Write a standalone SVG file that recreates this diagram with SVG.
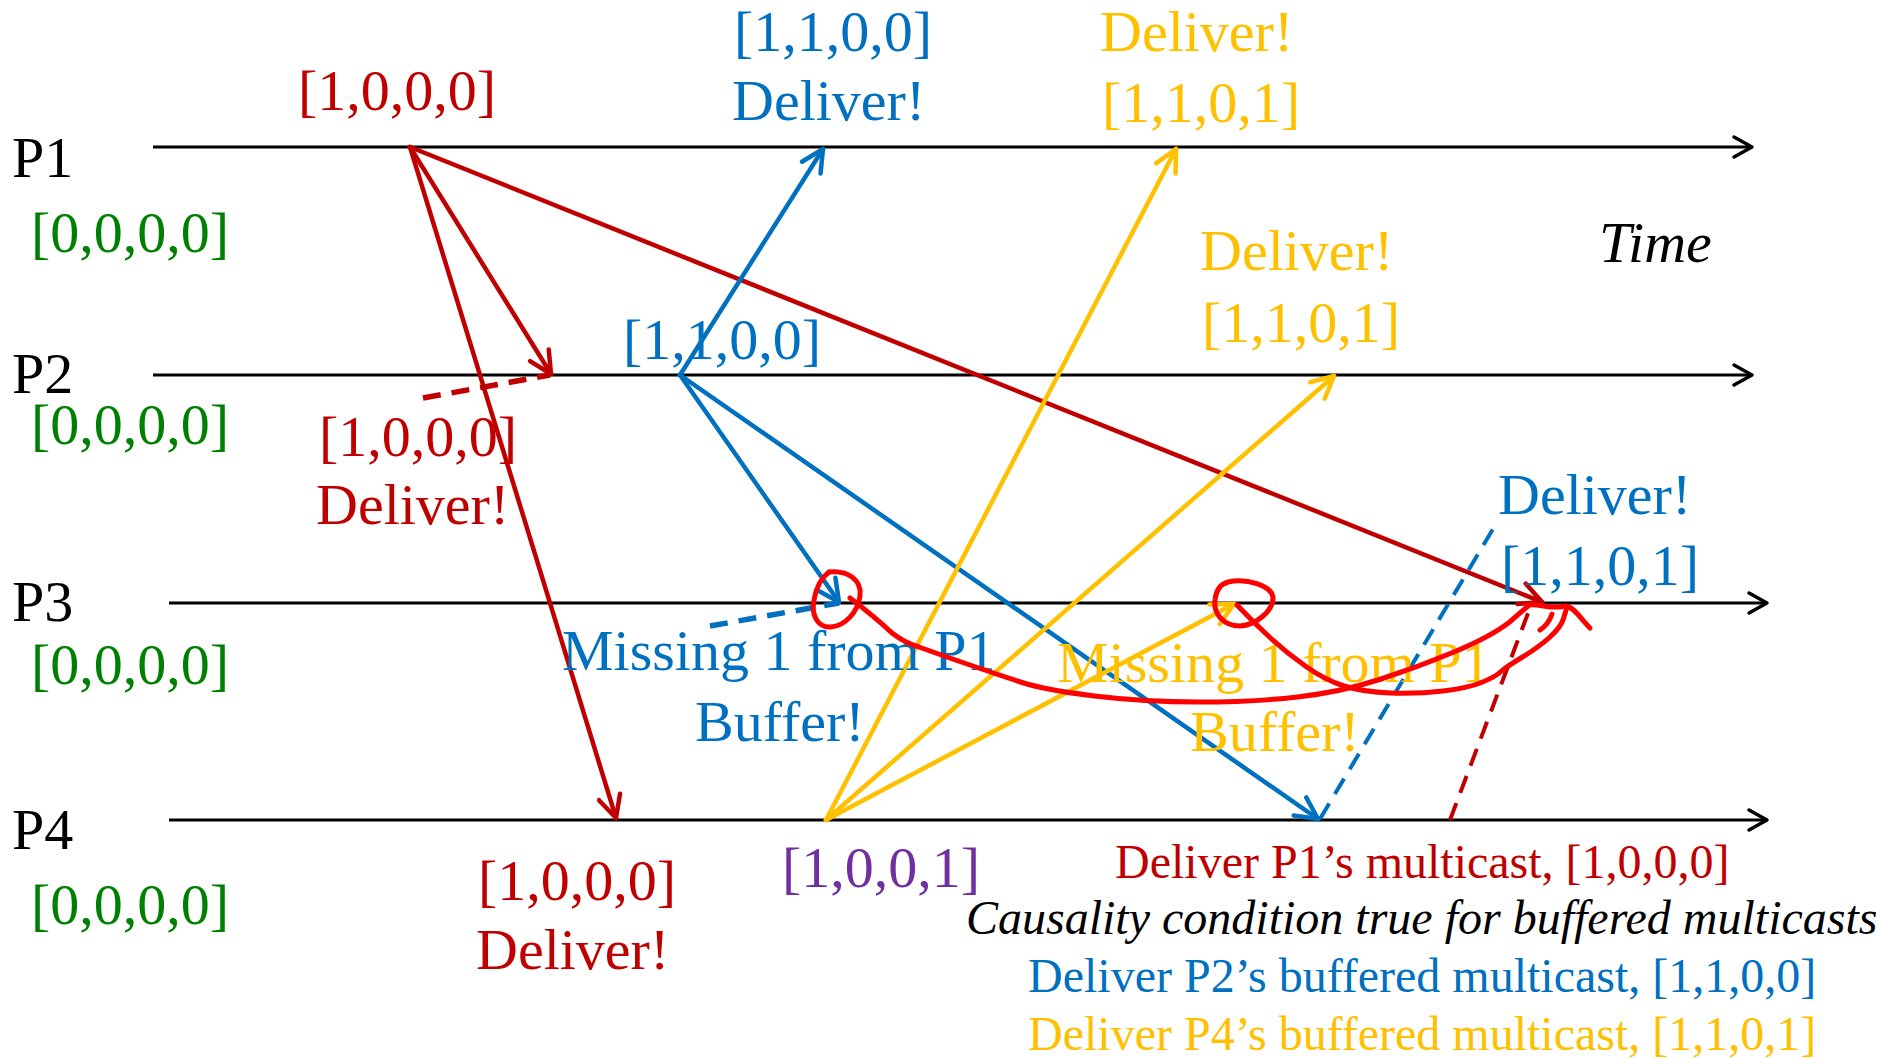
<svg xmlns="http://www.w3.org/2000/svg" width="1880" height="1059" viewBox="0 0 1880 1059">
  <style>
    .t { font-family: "Liberation Serif", "Times New Roman", serif; font-size: 58px; }
    .s { font-size: 48px; }
    .it { font-style: italic; }
    .k { fill: #000000; }
    .g { fill: #008000; }
    .r { fill: #C00000; }
    .b { fill: #0070C0; }
    .y { fill: #FFC000; }
    .p { fill: #7030A0; }
    .axis { stroke: #000000; stroke-width: 3; fill: none; }
    .msg { fill: none; stroke-width: 4.5; stroke-linecap: round; }
    .dash { fill: none; stroke-dasharray: 18 11; }
    .sr { stroke: #C00000; }
    .sb { stroke: #0070C0; }
    .sy { stroke: #FFC000; }
    .ink { fill: none; stroke: #FF0000; stroke-width: 5; stroke-linecap: round; stroke-linejoin: round; }
  </style>
  <defs>
    <marker id="ah-k" markerUnits="userSpaceOnUse" orient="auto" overflow="visible" markerWidth="1" markerHeight="1">
      <path d="M-18,-10 L0,0 L-18,10" fill="none" stroke="#000000" stroke-width="3.5" stroke-linejoin="round" stroke-linecap="round"/>
    </marker>
    <marker id="ah-r" markerUnits="userSpaceOnUse" orient="auto" overflow="visible" markerWidth="1" markerHeight="1">
      <path d="M-22,-11 L0,0 L-22,11" fill="none" stroke="#C00000" stroke-width="4.5" stroke-linejoin="round" stroke-linecap="round"/>
    </marker>
    <marker id="ah-b" markerUnits="userSpaceOnUse" orient="auto" overflow="visible" markerWidth="1" markerHeight="1">
      <path d="M-22,-11 L0,0 L-22,11" fill="none" stroke="#0070C0" stroke-width="4.5" stroke-linejoin="round" stroke-linecap="round"/>
    </marker>
    <marker id="ah-y" markerUnits="userSpaceOnUse" orient="auto" overflow="visible" markerWidth="1" markerHeight="1">
      <path d="M-22,-11 L0,0 L-22,11" fill="none" stroke="#FFC000" stroke-width="4.5" stroke-linejoin="round" stroke-linecap="round"/>
    </marker>
  </defs>

  <rect width="1880" height="1059" fill="#ffffff"/>

  <!-- process timelines -->
  <g id="p1">
    <line class="axis" x1="153" y1="147" x2="1752" y2="147" marker-end="url(#ah-k)"/>
    <text class="t k" x="12" y="177">P1</text>
    <text class="t g" x="31" y="252">[0,0,0,0]</text>
  </g>
  <g id="p2">
    <line class="axis" x1="153" y1="375" x2="1752" y2="375" marker-end="url(#ah-k)"/>
    <text class="t k" x="12" y="393">P2</text>
    <text class="t g" x="31" y="444">[0,0,0,0]</text>
  </g>
  <g id="p3">
    <line class="axis" x1="169" y1="603" x2="1767" y2="603" marker-end="url(#ah-k)"/>
    <text class="t k" x="12" y="621">P3</text>
    <text class="t g" x="31" y="684">[0,0,0,0]</text>
  </g>
  <g id="p4">
    <line class="axis" x1="169" y1="820" x2="1767" y2="820" marker-end="url(#ah-k)"/>
    <text class="t k" x="12" y="849">P4</text>
    <text class="t g" x="31" y="924">[0,0,0,0]</text>
  </g>
  <g id="time-label">
    <text class="t it k" x="1599" y="262">Time</text>
  </g>

  <!-- multicast messages -->
  <g id="connectors">
    <!-- P1 multicast [1,0,0,0] -->
    <line class="msg sr" x1="410" y1="147" x2="551" y2="374" marker-end="url(#ah-r)"/>
    <line class="msg sr" x1="410" y1="147" x2="616" y2="818" marker-end="url(#ah-r)"/>
    <line class="msg sr" x1="410" y1="147" x2="1542" y2="602" stroke-width="6" marker-end="url(#ah-r)"/>
    <!-- P2 multicast [1,1,0,0] -->
    <line class="msg sb" x1="680" y1="375" x2="823" y2="149" marker-end="url(#ah-b)"/>
    <line class="msg sb" x1="680" y1="375" x2="839" y2="602" marker-end="url(#ah-b)"/>
    <line class="msg sb" x1="680" y1="375" x2="1318" y2="819" marker-end="url(#ah-b)"/>
    <!-- P4 multicast [1,0,0,1] -->
    <line class="msg sy" x1="826" y1="820" x2="1176" y2="149" marker-end="url(#ah-y)"/>
    <line class="msg sy" x1="826" y1="820" x2="1334" y2="376" marker-end="url(#ah-y)"/>
    <line class="msg sy" x1="826" y1="820" x2="1234" y2="604" marker-end="url(#ah-y)"/>
    <!-- callout leaders -->
    <line class="dash sr" x1="423" y1="398" x2="550" y2="375" stroke-width="5.5"/>
    <line class="dash sb" x1="710" y1="626" x2="839" y2="603" stroke-width="5.5"/>
    <line class="dash sb" x1="1320" y1="819" x2="1496" y2="524" stroke-width="4"/>
    <line class="dash sr" x1="1450" y1="820" x2="1530" y2="608" stroke-width="4"/>
  </g>

  <!-- vector timestamps and delivery notes -->
  <g id="labels-red">
    <text class="t r" x="298" y="110">[1,0,0,0]</text>
    <text class="t r" x="319" y="456">[1,0,0,0]</text>
    <text class="t r" x="316" y="524">Deliver!</text>
    <text class="t r" x="478" y="900">[1,0,0,0]</text>
    <text class="t r" x="476" y="969">Deliver!</text>
  </g>
  <g id="labels-blue">
    <text class="t b" x="734" y="51">[1,1,0,0]</text>
    <text class="t b" x="732" y="120">Deliver!</text>
    <text class="t b" x="623" y="359">[1,1,0,0]</text>
    <text class="t b" x="562" y="670">Missing 1 from P1</text>
    <text class="t b" x="695" y="741">Buffer!</text>
    <text class="t b" x="1498" y="514">Deliver!</text>
    <text class="t b" x="1501" y="585">[1,1,0,1]</text>
  </g>
  <g id="labels-yellow">
    <text class="t y" x="1100" y="51">Deliver!</text>
    <text class="t y" x="1102" y="122">[1,1,0,1]</text>
    <text class="t y" x="1200" y="270">Deliver!</text>
    <text class="t y" x="1202" y="342">[1,1,0,1]</text>
    <text class="t y" x="1057" y="682">Missing 1 from P1</text>
    <text class="t y" x="1190" y="751">Buffer!</text>
  </g>
  <g id="labels-purple">
    <text class="t p" x="782" y="887">[1,0,0,1]</text>
  </g>
  <g id="summary">
    <text class="t s r" x="1115" y="878">Deliver P1’s multicast, [1,0,0,0]</text>
    <text class="t s it k" x="966" y="934">Causality condition true for buffered multicasts</text>
    <text class="t s b" x="1028" y="992">Deliver P2’s buffered multicast, [1,1,0,0]</text>
    <text class="t s y" x="1028" y="1050">Deliver P4’s buffered multicast, [1,1,0,1]</text>
  </g>

  <!-- hand-drawn red annotations: buffered messages released later -->
  <g id="ink">
    <path class="ink" d="M 829 572 C 848 570, 862 580, 860 596 C 858 612, 845 626, 831 627 C 817 628, 811 614, 814 600 C 816 588, 821 578, 829 572"/>
    <path class="ink" d="M 850 598 Q 875 617 892 633 Q 905 643 919 647 Q 941 655 968.5 664.5 Q 996 674 1020.5 682 Q 1045 690 1094.5 696 Q 1144 702 1199 702 Q 1254 702 1297.5 697 Q 1341 692 1379.5 679.5 Q 1418 667 1454 652 Q 1490 637 1509 622.5 L 1528 606"/>
    <path class="ink" d="M 1228 582 C 1246 578, 1272 585, 1273 598 C 1273 611, 1256 625, 1240 626 C 1224 626, 1213 614, 1215 600 C 1216 590, 1221 584, 1228 582"/>
    <path class="ink" d="M 1237 605 Q 1254 623 1270.5 638 Q 1287 653 1306 666.5 Q 1325 680 1344 686 Q 1363 692 1390.5 693 Q 1418 694 1443 691 Q 1468 688 1481.5 682.5 Q 1495 677 1500.5 672 Q 1506 667 1522.5 657 Q 1539 647 1550 637 Q 1561 627 1563.5 618.5 L 1567 607"/>
    <path class="ink" d="M 1527 605 C 1540 603, 1550 610, 1565 606"/>
    <path class="ink" d="M 1566 606 C 1574 607, 1581 619, 1590 628"/>
    <path class="ink" d="M 1540 630 C 1546 626, 1550 620, 1552 614"/>
  </g>
</svg>
